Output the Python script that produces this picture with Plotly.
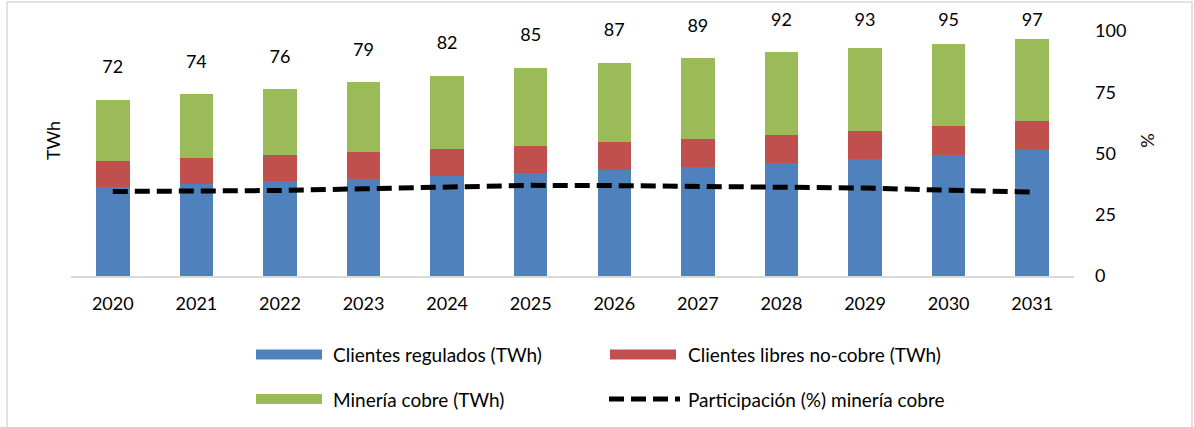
import plotly.graph_objects as go

# ---------------- data ----------------
years = ["2020", "2021", "2022", "2023", "2024", "2025",
         "2026", "2027", "2028", "2029", "2030", "2031"]
regulados = [36.2, 37.6, 38.8, 39.7, 40.7, 41.9, 43.3, 44.6, 46.0, 47.8, 49.5, 51.3]
libres_no_cobre = [10.7, 10.7, 10.7, 11.0, 11.3, 11.2, 11.3, 11.4, 11.6, 11.5, 11.7, 11.8]
mineria_cobre = [24.9, 26.0, 26.7, 28.5, 29.8, 31.7, 32.2, 33.0, 33.7, 33.9, 33.5, 33.5]
totales = [72, 74, 76, 79, 82, 85, 87, 89, 92, 93, 95, 97]
participacion = [34.5, 34.6, 34.9, 35.6, 36.3, 37.0, 36.9, 36.6, 36.5, 35.9, 35.0, 34.3]
pct_ticks = [0, 25, 50, 75, 100]

names = ["Clientes regulados (TWh)", "Clientes libres no-cobre (TWh)",
         "Minería cobre (TWh)", "Participación (%) minería cobre"]
colors = ["#4F81BD", "#C0504D", "#9BBB59"]

FONT = "Lato"
FS = 18
FS_LEG = 19

# ---------------- geometry helpers ----------------
W, H = 1194, 427
L, R, T, B = 71, 120, 5, 151
pw, ph = W - L - R, H - T - B
PX_PER_UNIT = 2.45
YMAX = ph / PX_PER_UNIT


def px(x):
    return (x - L) / pw


def py(y):
    return (H - B - y) / ph


fig = go.Figure()
for vals, nm, col in zip([regulados, libres_no_cobre, mineria_cobre], names[:3], colors):
    fig.add_trace(go.Bar(x=years, y=vals, name=nm, marker=dict(color=col, line=dict(width=0)),
                         showlegend=False))

fig.add_trace(go.Scatter(x=years, y=participacion, name=names[3], yaxis="y2", mode="lines",
                         line=dict(color="black", width=5, dash="15px,7px"), showlegend=False))

label_y = [min(t + 12.6, 104.0) for t in totales]
fig.add_trace(go.Scatter(x=years, y=label_y, mode="text", text=[str(t) for t in totales],
                         textposition="middle center",
                         textfont=dict(family=FONT, size=FS, color="black"),
                         cliponaxis=False, showlegend=False, hoverinfo="skip"))

fig.update_layout(
    width=W, height=H,
    margin=dict(l=L, r=R, t=T, b=B, autoexpand=False),
    paper_bgcolor="white", plot_bgcolor="white",
    barmode="stack", bargap=0.6,
    font=dict(family=FONT, size=FS, color="black"),
    xaxis=dict(type="category", range=[-0.5, len(years) - 0.5],
               showline=True, linecolor="#D9D9D9", linewidth=2, showgrid=False,
               zeroline=False, ticks="", tickfont=dict(size=FS, color="black"),
               ticklabelstandoff=10),
    yaxis=dict(range=[0, YMAX], showticklabels=False, showgrid=False, zeroline=False,
               showline=False, title=dict(text="TWh", standoff=4,
                                          font=dict(size=FS, color="black"))),
    yaxis2=dict(range=[0, YMAX], overlaying="y", side="right", tickvals=pct_ticks,
                showgrid=False, zeroline=False, showline=False, ticks="",
                tickfont=dict(size=FS, color="black"), ticklabelstandoff=20,
                title=dict(text="%", standoff=16, font=dict(size=FS, color="black"))),
)

# chart border
fig.add_shape(type="rect", xref="paper", yref="paper", x0=px(7), x1=px(1192),
              y0=py(440), y1=py(2), line=dict(color="#D9D9D9", width=1.5), layer="below")

# manual legend (2 x 2)
rows = [354.5, 354.5, 399, 399]
sw_x = [256, 610, 256, 609]
txt_x = [331, 686, 331, 686]
for i in range(4):
    if i < 3:
        fig.add_shape(type="rect", xref="paper", yref="paper",
                      x0=px(sw_x[i]), x1=px(sw_x[i] + 66),
                      y0=py(rows[i] + 5), y1=py(rows[i] - 5),
                      fillcolor=colors[i], line=dict(width=0))
    else:
        fig.add_shape(type="line", xref="paper", yref="paper",
                      x0=px(sw_x[i]), x1=px(sw_x[i] + 71),
                      y0=py(rows[i]), y1=py(rows[i]),
                      line=dict(color="black", width=5, dash="15px,7px"))
    fig.add_annotation(xref="paper", yref="paper", x=px(txt_x[i]), y=py(rows[i]),
                       text=names[i], showarrow=False, xanchor="left", yanchor="middle",
                       font=dict(family=FONT, size=FS_LEG, color="black"))

fig.write_html("out.html", config={"displayModeBar": False},
               post_script="document.body.style.margin='0';")
